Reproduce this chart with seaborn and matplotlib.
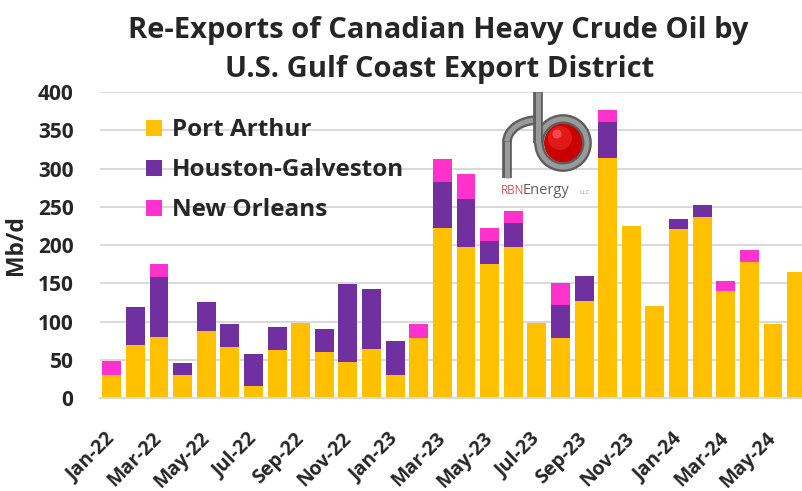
import numpy as np
import pandas as pd
import seaborn as sns
import matplotlib.pyplot as plt
import matplotlib.transforms as mtransforms
from matplotlib.patches import Patch, Circle, Arc
from matplotlib.lines import Line2D

# Monthly re-exports of Canadian heavy crude by export district (Mb/d)
months = ["Jan-22", "Feb-22", "Mar-22", "Apr-22", "May-22", "Jun-22",
          "Jul-22", "Aug-22", "Sep-22", "Oct-22", "Nov-22", "Dec-22",
          "Jan-23", "Feb-23", "Mar-23", "Apr-23", "May-23", "Jun-23",
          "Jul-23", "Aug-23", "Sep-23", "Oct-23", "Nov-23", "Dec-23",
          "Jan-24", "Feb-24", "Mar-24", "Apr-24", "May-24", "Jun-24"]
port_arthur = [31, 70, 80, 31, 88, 67, 16, 63, 99, 60, 48, 64,
               30, 79, 222, 198, 176, 198, 99, 79, 127, 314, 225, 121,
               221, 237, 140, 178, 97, 165]
houston_galveston = [0, 49, 79, 15, 38, 30, 42, 30, 0, 31, 101, 79,
                     45, 0, 60, 62, 30, 31, 0, 43, 33, 47, 0, 0,
                     13, 15, 0, 0, 0, 0]
new_orleans = [18, 0, 17, 0, 0, 0, 0, 0, 0, 0, 0, 0,
               0, 18, 31, 33, 17, 16, 0, 29, 0, 16, 0, 0,
               0, 0, 13, 16, 0, 0]
districts = ["Port Arthur", "Houston-Galveston", "New Orleans"]
colors = {"Port Arthur": "#FFC000",
          "Houston-Galveston": "#7030A0",
          "New Orleans": "#FF33CC"}
y_ticks = [0, 50, 100, 150, 200, 250, 300, 350, 400]

n = len(months)
df = pd.DataFrame({
    "pos": list(range(n)) * 3,
    "district": ["Port Arthur"] * n + ["Houston-Galveston"] * n + ["New Orleans"] * n,
    "value": port_arthur + houston_galveston + new_orleans,
})

W, H = 802, 491
fig = plt.figure(figsize=(W / 100, H / 100), dpi=100)
sns.set_style("white")
plt.rcParams["font.family"] = ["Open Sans", "DejaVu Sans"]

ax = fig.add_axes([100 / W, (H - 398.3) / H, 702 / W, 306.6 / H])

# stacked bars: last hue level sits at the bottom of the stack
sns.histplot(data=df, x="pos", weights="value", hue="district",
             hue_order=["New Orleans", "Houston-Galveston", "Port Arthur"],
             palette=colors, multiple="stack", discrete=True, shrink=0.8,
             alpha=1, edgecolor="none", linewidth=0, legend=False, ax=ax,
             zorder=2)

ax.set_xlim(-0.5, 29.23)
ax.set_ylim(0, 400.6)
ax.set_yticks(y_ticks)
ax.set_yticklabels([str(v) for v in y_ticks], fontsize=15, fontweight="bold")
ax.yaxis.grid(True, color="#D9D9D9", linewidth=1.4, zorder=0)
ax.set_axisbelow(True)
for side in ["top", "right", "left"]:
    ax.spines[side].set_visible(False)
ax.spines["bottom"].set_color("#D9D9D9")
ax.spines["bottom"].set_linewidth(1.4)
ax.tick_params(axis="y", length=0, pad=19)
ax.tick_params(axis="x", length=0, pad=27)

ax.set_xticks(range(0, n, 2))
ax.set_xticklabels(months[::2], rotation=45, ha="right", va="center",
                   rotation_mode="anchor", fontsize=14, fontweight="bold")

ax.set_xlabel("")
ax.set_ylabel("Mb/d", fontsize=16.5, fontweight="bold")
ax.yaxis.set_label_coords(-0.1026, 0.5)

handles = [Patch(facecolor=colors[d], edgecolor="none") for d in districts]
ax.legend(handles, districts, loc="upper left", bbox_to_anchor=(0.0655, 0.913),
          frameon=False, prop={"size": 17.5, "weight": "bold"},
          handlelength=0.66, handleheight=0.66, handletextpad=0.41,
          labelspacing=0.66, borderaxespad=0, borderpad=0)

fig.text(438 / W, 1 - 38 / H, "Re-Exports of Canadian Heavy Crude Oil by",
         ha="center", va="baseline", fontsize=21, fontweight="bold")
fig.text(440 / W, 1 - 77 / H, "U.S. Gulf Coast Export District",
         ha="center", va="baseline", fontsize=21, fontweight="bold")

# RBN Energy logo drawn in pixel space
lg = fig.add_axes([0, 0, 1, 1], zorder=5)
lg.set_xlim(0, W)
lg.set_ylim(H, 0)
lg.axis("off")
lg.patch.set_alpha(0)


def pipe_segments(color, lw):
    lg.add_patch(Circle((563, 143), 24, fill=False, edgecolor=color, linewidth=lw))
    lg.add_line(Line2D([538, 538], [92, 143], color=color, linewidth=lw,
                       solid_capstyle="butt"))
    lg.add_patch(Arc((538, 142), 62, 44, theta1=180, theta2=270,
                     edgecolor=color, linewidth=lw))
    lg.add_line(Line2D([507, 507], [141, 178], color=color, linewidth=lw,
                       solid_capstyle="butt"))


lg.add_patch(Circle((564, 143), 20, facecolor="#C80000", edgecolor="none"))
lg.add_patch(Circle((560, 138), 12, facecolor="#E82020", edgecolor="none", alpha=0.8))
lg.add_patch(Circle((557, 134), 4.5, facecolor="#FF6060", edgecolor="none", alpha=0.7))
pipe_segments("#5E5E5E", 7.0)
pipe_segments("#9A9A9A", 3.6)
lg.text(501, 194, "RBN", color="#E05050", fontsize=8.5, va="baseline",
        family=["Open Sans", "DejaVu Sans"])
lg.text(523, 194, "Energy", color="#606060", fontsize=10.5, va="baseline",
        family=["Open Sans", "DejaVu Sans"])
lg.text(579, 194, "LLC", color="#909090", fontsize=4.5, va="baseline",
        family=["Open Sans", "DejaVu Sans"])

fig.savefig("out.png", dpi=100)
